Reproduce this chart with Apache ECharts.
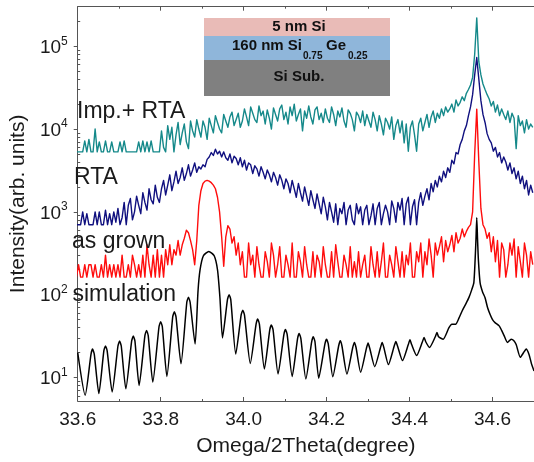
<!DOCTYPE html>
<html>
<head>
<meta charset="utf-8">
<title>HRXRD Omega/2Theta</title>
<script src="https://cdn.jsdelivr.net/npm/echarts@6/dist/echarts.min.js"></script>
<style>
html, body { margin: 0; padding: 0; background: #fff; }
#main { width: 534px; height: 462px; }
</style>
</head>
<body>
<div id="main"></div>
<script>
var FONT = '"Liberation Sans", Arial, sans-serif';

// measured scans: one value every 0.005 deg, starting at 33.597
var X0 = 33.597;
var STEP = 0.005;

var impRta = [
    5300, 5300, 5300, 5300, 7200, 5300, 7500, 5300, 5300, 10000, 5300, 7000, 5300, 5300, 7200, 5300, 5300, 7000, 5300, 5300,
    5300, 7000, 5300, 7200, 5300, 5300, 5300, 5300, 5300, 5300, 7000, 5300, 7200, 5300, 7000, 5300, 7200, 5300, 5300, 5300,
    5300, 9500, 6000, 5300, 11000, 7500, 10500, 5300, 8500, 12000, 6500, 9000, 11500, 7000, 5800, 12500, 9500, 8000, 13000, 10000,
    8000, 12500, 10500, 7500, 13500, 11000, 9000, 14500, 12000, 10000, 9000, 15000, 12500, 10500, 14000, 16000, 11000, 13000, 15500, 10500,
    12500, 17500, 14000, 11000, 18500, 15500, 13000, 12000, 19000, 14500, 16500, 11500, 17000, 13500, 10000, 18000, 15000, 12500, 17500, 19500,
    13000, 16000, 11500, 18500, 14500, 20000, 12500, 15000, 17500, 9500, 16500, 13500, 19000, 14000, 11500, 17000, 18500, 13000, 15500, 12000,
    17500, 13500, 12000, 18500, 15000, 11000, 16500, 14000, 18000, 12500, 10500, 17000, 15500, 13000, 9500, 16000, 14500, 12000, 16500, 11000,
    15000, 12500, 10500, 16000, 13000, 9500, 14500, 11500, 8500, 13500, 12000, 10000, 14000, 7500, 11000, 13000, 9000, 12500, 6800, 11500,
    5400, 10500, 12500, 8500, 5400, 11500, 13500, 9500, 12000, 15000, 10500, 14000, 16500, 12000, 15500, 13500, 17500, 14500, 18500, 16000,
    17500, 20000, 16000, 22500, 19000, 21000, 24500, 22000, 27000, 30000, 34000, 42000, 80000, 220000, 65000, 45000, 35000, 30000, 26000, 23000,
    19000, 21500, 16000, 19500, 14500, 17500, 15000, 13000, 16500, 12000, 15500, 13500, 5800, 14500, 11000, 12500, 9000, 13000, 10000, 11500,
    10500
];

var rta = [
    700, 700, 700, 1000, 700, 950, 700, 700, 700, 1000, 700, 1000, 700, 700, 1050, 700, 950, 700, 1000, 750,
    1100, 700, 850, 1300, 700, 1200, 1450, 800, 1000, 1550, 1200, 950, 1700, 1300, 1050, 1900, 1400, 1250, 2100, 1500,
    1300, 1900, 2400, 1600, 2100, 2800, 1800, 2300, 3100, 2200, 2600, 3400, 2400, 2900, 3700, 2700, 3200, 3900, 3000, 3500,
    3300, 3700, 3500, 4300, 4600, 5200, 4800, 5700, 5000, 5400, 4600, 5300, 4500, 4200, 5000, 3900, 4700, 4400, 3700, 4500,
    3500, 4200, 3200, 3900, 3700, 2900, 3600, 3300, 2700, 3500, 3000, 2500, 3200, 2800, 2300, 3000, 2600, 2100, 2800, 2400,
    1900, 2500, 2200, 1700, 2400, 1900, 1500, 2200, 1700, 1350, 2000, 1550, 1200, 1800, 1400, 1100, 1650, 1250, 950, 1500,
    1150, 800, 1300, 1000, 750, 1250, 700, 1100, 950, 1300, 700, 1050, 1200, 800, 700, 1250, 950, 1150, 700, 1050,
    1200, 700, 900, 1250, 700, 1100, 1300, 700, 950, 1200, 1000, 700, 1350, 1100, 750, 1300, 1050, 1450, 700, 1250,
    1500, 700, 1150, 1400, 700, 1300, 1700, 1200, 1550, 1900, 1400, 2200, 1750, 2400, 2000, 2700, 2300, 3100, 2600, 3400,
    3000, 4200, 3800, 5200, 5000, 6500, 7500, 9500, 11000, 14500, 18500, 26000, 45000, 73000, 40000, 22000, 15000, 12000, 8800, 7500,
    6800, 5400, 6000, 4600, 5200, 3900, 4600, 4000, 3200, 3900, 2900, 3400, 2500, 3100, 2200, 2700, 1900, 2400, 1600, 2100,
    1700
];

var asGrown = [
    163, 230, 163, 163, 230, 163, 230, 230, 163, 230, 163, 163, 230, 163, 300, 163, 230, 163, 230, 163,
    230, 163, 300, 163, 163, 230, 163, 300, 230, 163, 230, 163, 300, 163, 400, 230, 163, 300, 163, 350,
    163, 300, 163, 350, 230, 400, 230, 350, 300, 450, 300, 400, 480, 600, 560, 450, 350, 230, 450, 1200,
    1800, 2200, 2350, 2400, 2350, 2250, 2100, 1900, 1500, 1000, 500, 220, 500, 680, 620, 420, 500, 300, 420, 230,
    330, 163, 163, 420, 230, 300, 163, 380, 230, 163, 163, 330, 250, 163, 420, 300, 163, 230, 380, 163,
    163, 300, 230, 163, 420, 163, 163, 330, 250, 163, 380, 230, 163, 163, 330, 163, 300, 250, 163, 380,
    230, 163, 163, 330, 163, 400, 250, 163, 163, 300, 230, 163, 380, 163, 250, 163, 330, 163, 230, 300,
    163, 163, 380, 230, 163, 330, 163, 250, 420, 163, 163, 300, 230, 163, 380, 250, 163, 330, 163, 300,
    230, 420, 163, 163, 330, 250, 420, 163, 330, 230, 470, 300, 163, 420, 300, 380, 500, 250, 450, 330,
    400, 520, 330, 560, 420, 480, 620, 500, 580, 650, 700, 1000, 5000, 17400, 4000, 1100, 700, 620, 480, 560,
    330, 500, 250, 450, 163, 420, 350, 163, 230, 420, 300, 470, 163, 380, 250, 163, 420, 300, 163, 330,
    230
];

// simulated curve, read point by point (fringe maxima, shoulders, minima)
var simDeg = [
    33.600, 33.618, 33.632, 33.636, 33.640, 33.651, 33.663, 33.667, 33.671, 33.683,
    33.697, 33.701, 33.705, 33.716, 33.730, 33.734, 33.738, 33.748, 33.762, 33.766,
    33.770, 33.781, 33.796, 33.800, 33.804, 33.815, 33.829, 33.833, 33.837, 33.849,
    33.863, 33.867, 33.871, 33.883, 33.890, 33.895, 33.903, 33.916, 33.929, 33.937,
    33.943, 33.949, 33.961, 33.965, 33.969, 33.981, 33.994, 33.998, 34.002, 34.016,
    34.030, 34.034, 34.038, 34.050, 34.063, 34.067, 34.071, 34.083, 34.097, 34.101,
    34.105, 34.117, 34.130, 34.134, 34.138, 34.150, 34.164, 34.168, 34.172, 34.181,
    34.196, 34.200, 34.204, 34.215, 34.229, 34.233, 34.237, 34.249, 34.263, 34.267,
    34.271, 34.282, 34.296, 34.300, 34.304, 34.316, 34.330, 34.334, 34.338, 34.349,
    34.363, 34.367, 34.371, 34.383, 34.397, 34.401, 34.405, 34.417, 34.431, 34.435,
    34.439, 34.448, 34.462, 34.466, 34.470, 34.481, 34.495, 34.502, 34.511, 34.519,
    34.527, 34.536, 34.543, 34.550, 34.555, 34.558, 34.560, 34.562, 34.564, 34.566,
    34.570, 34.576, 34.582, 34.588, 34.594, 34.600, 34.606, 34.616, 34.622, 34.628,
    34.636, 34.645, 34.651, 34.657, 34.667, 34.675, 34.681, 34.688, 34.694, 34.700
];
var simInt = [
    20, 6.1, 19, 22, 19, 6.4, 21, 24, 21, 6.7,
    24, 27.5, 24, 7.3, 27.5, 31.6, 27.5, 8.0, 32, 37,
    32, 8.8, 41, 47, 41, 10.3, 54, 62, 54, 14.6,
    81, 93, 81, 25.3, 110, 200, 295, 333, 295, 200,
    90, 30, 87, 100, 87, 19.2, 57, 65, 57, 14.8,
    44, 51, 44, 12.7, 37.5, 43, 37.5, 11.0, 33, 38,
    33, 10.3, 29.5, 34, 29.5, 9.6, 27, 31, 27, 9.8,
    25.5, 29, 25.5, 10.2, 24, 27.7, 24, 11, 23, 26.5,
    23, 11.6, 22.5, 26, 22.5, 13.5, 23, 26.5, 23, 14.3,
    24, 27.2, 24, 16, 25, 28.5, 25, 18.4, 27, 30.4,
    27, 23, 31, 35, 31, 29, 40, 44, 44, 52,
    64, 78, 92, 115, 140, 260, 450, 851, 450, 260,
    140, 108, 92, 70, 58, 50, 46, 42, 37, 32,
    26.5, 29, 28, 25, 17.5, 20, 22, 19, 14.6, 12
];

var xTickLabels = [33.6, 33.8, 34.0, 34.2, 34.4, 34.6];
var yDecades = [1, 2, 3, 4, 5];
var Y_MIN = 5.2, Y_MAX = 3.0e5;

function scan(values) {
    var out = [];
    for (var i = 0; i < values.length; i++) {
        out.push([X0 + i * STEP, values[i]]);
    }
    return out;
}
function pairs(xs, ys) {
    var out = [];
    for (var i = 0; i < xs.length; i++) out.push([xs[i], ys[i]]);
    return out;
}
// minor tick positions (2..9 x 10^n) in log units
function minorLogTicks() {
    var out = [];
    for (var n = 0; n <= 5; n++) {
        for (var k = 2; k <= 9; k++) {
            var v = k * Math.pow(10, n);
            if (v > Y_MIN && v < Y_MAX) out.push(Math.log10(v));
        }
    }
    return out;
}

var lineSeries = function (name, color, data, width, smooth) {
    return {
        name: name,
        type: 'line',
        xAxisIndex: 0,
        yAxisIndex: 0,
        data: data,
        showSymbol: false,
        symbol: 'none',
        smooth: smooth || false,
        lineStyle: { color: color, width: width, join: 'round' },
        emphasis: { disabled: true },
        animation: false
    };
};

var axisColor = '#555';
var textColor = '#1a1a1a';
var xCommon = {
    type: 'value',
    min: 33.6,
    max: 34.7,
    interval: 0.2,
    axisLine: { show: true, lineStyle: { color: axisColor, width: 1 } },
    axisTick: { show: true, inside: true, length: 4, lineStyle: { color: axisColor } },
    minorTick: { show: true, splitNumber: 2, length: 2, lineStyle: { color: axisColor } },
    splitLine: { show: false }
};

var chart = echarts.init(document.getElementById('main'));
chart.setOption({
    animation: false,
    grid: { left: 71.5, top: 6.7, right: -2.4, bottom: 57.7 },
    xAxis: [
        echarts.util.merge({
            position: 'bottom',
            name: 'Omega/2Theta(degree)',
            nameLocation: 'middle',
            nameGap: 35,
            nameTextStyle: { fontFamily: FONT, fontSize: 21, color: textColor },
            axisLabel: {
                customValues: xTickLabels,
                fontFamily: FONT, fontSize: 19, color: textColor, margin: 9,
                formatter: function (v) { return v.toFixed(1); }
            }
        }, xCommon, true),
        echarts.util.merge({
            position: 'top',
            axisLabel: { show: false }
        }, xCommon, true)
    ],
    yAxis: [
        // the log scale the curves are drawn on
        { type: 'log', logBase: 10, min: Y_MIN, max: Y_MAX, show: false },
        // decade ticks and labels
        {
            type: 'value',
            position: 'left',
            min: Math.log10(Y_MIN),
            max: Math.log10(Y_MAX),
            name: 'Intensity(arb. units)',
            nameLocation: 'middle',
            nameGap: 43,
            nameTextStyle: { fontFamily: FONT, fontSize: 21, color: textColor },
            axisLine: { show: true, lineStyle: { color: axisColor, width: 1 } },
            axisTick: { show: true, customValues: yDecades, inside: false, length: 4, lineStyle: { color: axisColor } },
            splitLine: { show: false },
            axisLabel: {
                customValues: yDecades,
                margin: 10,
                formatter: function (v) { return '{b|10}{s|' + Math.round(v) + '}'; },
                rich: {
                    b: { fontFamily: FONT, fontSize: 19, color: textColor, lineHeight: 22, verticalAlign: 'bottom' },
                    s: { fontFamily: FONT, fontSize: 12, color: textColor, lineHeight: 14, verticalAlign: 'top' }
                }
            }
        },
        // minor ticks
        {
            type: 'value',
            position: 'left',
            min: Math.log10(Y_MIN),
            max: Math.log10(Y_MAX),
            axisLine: { show: false },
            axisTick: { show: true, customValues: minorLogTicks(), inside: true, length: 2.5, lineStyle: { color: axisColor } },
            axisLabel: { show: false },
            splitLine: { show: false }
        }
    ],
    series: [
        lineSeries('simulation', '#000000', pairs(simDeg, simInt), 1.5, 0.2),
        lineSeries('as grown', '#ff0d0d', scan(asGrown), 1.4),
        lineSeries('RTA', '#10107f', scan(rta), 1.4),
        lineSeries('Imp.+ RTA', '#15898a', scan(impRta), 1.4)
    ],
    graphic: [
        // layer stack inset
        { type: 'rect', z: 50, shape: { x: 204, y: 18, width: 186, height: 18 }, style: { fill: '#e9bbb7' } },
        { type: 'rect', z: 50, shape: { x: 204, y: 36, width: 186, height: 24 }, style: { fill: '#8fb6da' } },
        { type: 'rect', z: 50, shape: { x: 204, y: 60, width: 186, height: 36 }, style: { fill: '#808080' } },
        { type: 'text', z: 51, x: 299, y: 27, style: { text: '5 nm Si', font: 'bold 15px ' + FONT, fill: '#111', align: 'center', verticalAlign: 'middle' } },
        { type: 'text', z: 51, x: 232, y: 46, style: { text: '160 nm Si', font: 'bold 15px ' + FONT, fill: '#111', align: 'left', verticalAlign: 'middle' } },
        { type: 'text', z: 51, x: 303, y: 56, style: { text: '0.75', font: 'bold 10px ' + FONT, fill: '#111', align: 'left', verticalAlign: 'middle' } },
        { type: 'text', z: 51, x: 326, y: 46, style: { text: 'Ge', font: 'bold 15px ' + FONT, fill: '#111', align: 'left', verticalAlign: 'middle' } },
        { type: 'text', z: 51, x: 348, y: 56, style: { text: '0.25', font: 'bold 10px ' + FONT, fill: '#111', align: 'left', verticalAlign: 'middle' } },
        { type: 'text', z: 51, x: 299, y: 77, style: { text: 'Si Sub.', font: 'bold 15px ' + FONT, fill: '#111', align: 'center', verticalAlign: 'middle' } },
        // curve names
        { type: 'text', z: 60, x: 77, y: 112, style: { text: 'Imp.+ RTA', font: '23px ' + FONT, fill: textColor, verticalAlign: 'middle' } },
        { type: 'text', z: 60, x: 74, y: 178, style: { text: 'RTA', font: '23px ' + FONT, fill: textColor, verticalAlign: 'middle' } },
        { type: 'text', z: 60, x: 72, y: 242, style: { text: 'as grown', font: '23px ' + FONT, fill: textColor, verticalAlign: 'middle' } },
        { type: 'text', z: 60, x: 72.5, y: 295, style: { text: 'simulation', font: '23px ' + FONT, fill: textColor, verticalAlign: 'middle' } }
    ]
});
</script>
</body>
</html>
